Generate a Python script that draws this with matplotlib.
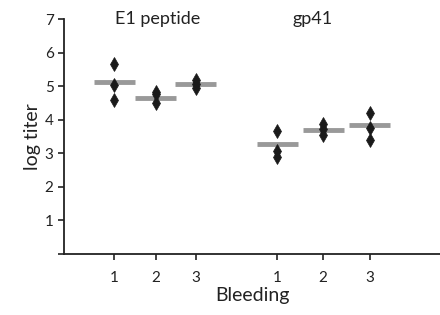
import matplotlib
matplotlib.use("Agg")
import matplotlib.pyplot as plt

plt.rcParams['font.family'] = ['Lato', 'DejaVu Sans']

# bleeding labels and x positions (two groups)
tick_labels = ['1', '2', '3', '1', '2', '3']
x_pos = [1.23, 2.24, 3.21, 5.20, 6.32, 7.46]

# individual log titers per bleeding
e1_points = [[5.67, 5.05, 4.58], [4.84, 4.76, 4.49], [5.19, 5.07, 4.94]]
gp41_points = [[3.68, 3.06, 2.89], [3.88, 3.74, 3.56], [4.21, 3.76, 3.39]]
# mean bars
e1_mean = [5.14, 4.66, 5.08]
gp41_mean = [3.28, 3.70, 3.85]

all_points = e1_points + gp41_points
all_means = e1_mean + gp41_mean

fig = plt.figure(figsize=(4.4, 3.15), dpi=100)
ax = fig.add_axes([0.1455, 0.1937, 0.8545, 0.745])

for x, m in zip(x_pos, all_means):
    ax.hlines(m, x - 0.5, x + 0.5, color='#999999', linewidth=3.5, zorder=2)
for x, pts in zip(x_pos, all_points):
    ax.plot([x] * len(pts), pts, linestyle='none', marker='d', markersize=7,
            markeredgewidth=0.5, color='#1a1a1a', zorder=3)

ax.set_xlim(0, 9.17)
ax.set_ylim(0, 7)
ax.set_yticks(range(0, 8))
ax.set_yticklabels([''] + [str(i) for i in range(1, 8)])
ax.set_xticks(x_pos)
ax.set_xticklabels(tick_labels)

for s in ['top', 'right']:
    ax.spines[s].set_visible(False)
for s in ['left', 'bottom']:
    ax.spines[s].set_linewidth(1.3)
    ax.spines[s].set_color('#222222')

ax.tick_params(axis='both', direction='out', length=4, width=1.2,
               color='#222222', labelsize=11, labelcolor='#222222')
ax.tick_params(axis='x', pad=8)

ax.set_ylabel('log titer', fontsize=14, color='#222222', labelpad=3)
ax.set_xlabel('Bleeding', fontsize=14, color='#222222', labelpad=2)

ax.text(2.28, 7.0, 'E1 peptide', ha='center', va='center', fontsize=13,
        color='#222222')
ax.text(6.07, 7.0, 'gp41', ha='center', va='center', fontsize=13,
        color='#222222')

fig.savefig('out.png', dpi=100)
